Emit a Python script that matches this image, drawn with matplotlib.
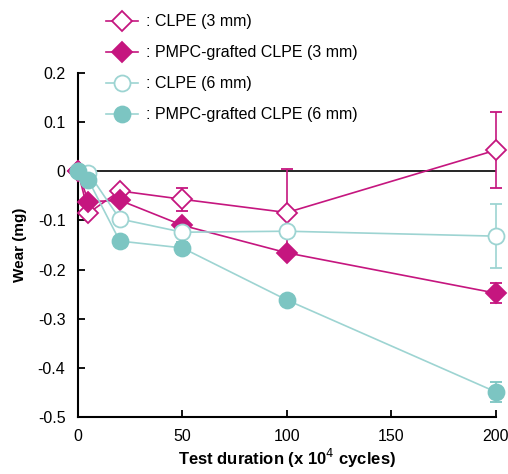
import numpy as np
import matplotlib
matplotlib.use("Agg")
import matplotlib.pyplot as plt
from matplotlib.lines import Line2D

# Test duration (x 10^4 cycles)
cycles = [0, 5, 20, 50, 100, 200]

# Wear (mg)
clpe_3 = [0, -0.085, -0.040, -0.057, -0.084, 0.043]
clpe_3_err = [0, 0, 0.008, 0.023, 0.089, 0.077]
pmpc_3 = [0, -0.062, -0.059, -0.110, -0.166, -0.248]
pmpc_3_err = [0, 0, 0, 0, 0, 0.021]
clpe_6 = [0, -0.003, -0.097, -0.124, -0.122, -0.132]
clpe_6_err = [0, 0, 0, 0, 0, 0.065]
pmpc_6 = [0, -0.018, -0.142, -0.156, -0.262, -0.449]
pmpc_6_err = [0, 0, 0, 0.012, 0, 0.02]

labels = [": CLPE (3 mm)", ": PMPC-grafted CLPE (3 mm)",
          ": CLPE (6 mm)", ": PMPC-grafted CLPE (6 mm)"]

pink = "#c5167f"
teal = "#7cc5c2"
teal_line = "#9dd4d2"

plt.rcParams['font.family'] = ['Liberation Sans', 'DejaVu Sans']

fig = plt.figure(figsize=(5.08, 4.74), dpi=100)
ax = fig.add_axes([0.1535, 0.1203, 0.8225, 0.7257])

ax.plot([0, 200], [0, 0], color="black", lw=1.2, zorder=1)

handles = []

def series(y, err, color, lcolor, marker, face, size, z, label):
    style = dict(color=lcolor, lw=1.2, marker=marker, ms=size,
                 mfc=face, mec=color, mew=1.3)
    ax.errorbar(cycles, y, yerr=err, ecolor=color, elinewidth=1.2,
                capsize=4, capthick=1.2, zorder=z, clip_on=False, **style)
    handles.append(Line2D([], [], label=label, **style))

series(clpe_3, clpe_3_err, pink, pink, "D", "white", 10, 3, labels[0])
series(pmpc_3, pmpc_3_err, pink, pink, "D", pink, 10, 4, labels[1])
series(clpe_6, clpe_6_err, teal_line, teal_line, "o", "white", 11.5, 5, labels[2])
series(pmpc_6, pmpc_6_err, teal, teal_line, "o", teal, 11.5, 6, labels[3])

ax.set_xlim(0, 200)
ax.set_ylim(-0.5, 0.2)
ax.set_xticks([0, 50, 100, 150, 200])
ax.set_yticks([-0.5, -0.4, -0.3, -0.2, -0.1, 0, 0.1, 0.2])
ax.set_yticklabels(["-0.5", "-0.4", "-0.3", "-0.2", "-0.1", "0", "0.1", "0.2"])
ax.tick_params(direction="in", length=5, width=1.3, labelsize=11.5, pad=9)
for s in ["top", "right"]:
    ax.spines[s].set_visible(False)
for s in ["left", "bottom"]:
    ax.spines[s].set_linewidth(1.5)

ax.set_xlabel("Test duration (x 10$^4$ cycles)", fontsize=12, fontweight="bold", labelpad=2)
ax.set_ylabel("Wear (mg)", fontsize=11, fontweight="bold", labelpad=8)

fig.legend(handles=handles, loc="upper left", bbox_to_anchor=(0.19, 0.99),
           frameon=False, fontsize=11.5, handlelength=2.0, labelspacing=1.0,
           handletextpad=0.5, borderaxespad=0.2)

fig.savefig("out.png", dpi=100)
